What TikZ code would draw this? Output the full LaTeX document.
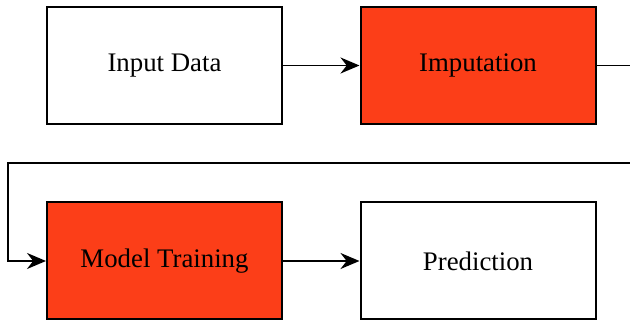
\documentclass[tikz,border=0pt]{standalone}
\usepackage{fontspec}
\setmainfont{Liberation Serif}
\usetikzlibrary{arrows.meta}
\definecolor{boxred}{RGB}{252,62,24}
\begin{document}
\begin{tikzpicture}[x=0.5pt,y=-0.5pt,
  procbox/.style={draw=black,line width=1pt,minimum width=117.5pt,minimum height=58.5pt,inner sep=0pt,font=\fontsize{13.4}{16}\selectfont},
  hot/.style={procbox,fill=boxred},
  flow/.style={line width=0.9pt,-{Stealth[length=9.5pt,width=8pt]}}]
\clip (0,0) rectangle (630,324);
\useasboundingbox (0,0) rectangle (630,324);
\node[procbox] (in) at (164.5,65.5) {Input Data};
\node[hot] (imp) at (478,65.5) {Imputation};
\node[hot] (mt) at (164.5,261) {Model Training};
\node[procbox] (pred) at (478,261) {Prediction};
\coordinate (r1) at (645,65.5);
\coordinate (r2) at (645,163);
\coordinate (l1) at (8,163);
\coordinate (l2) at (8,261);
\draw[flow] (in) -- (imp);
\draw[flow] (imp.east) -- (r1) -- (r2) -- (l1) -- (l2) -- (mt.west);
\draw[flow] (mt) -- (pred);
\end{tikzpicture}
\end{document}
